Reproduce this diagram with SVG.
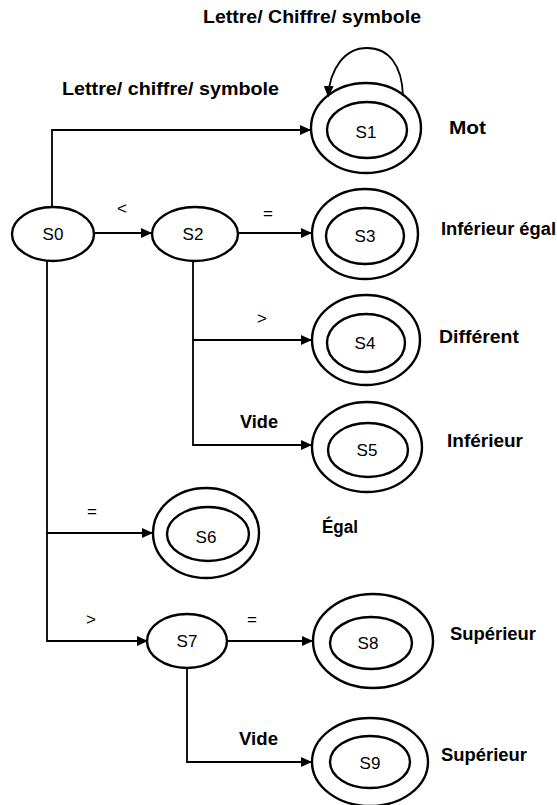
<svg xmlns="http://www.w3.org/2000/svg" width="557" height="805" viewBox="0 0 557 805">
<style>
.e{fill:none;stroke:#000;stroke-width:2.4}
.c{fill:none;stroke:#000;stroke-width:1.8}
.n{font-family:"Liberation Sans",Arial,sans-serif;font-size:17px;text-anchor:middle}
.l{font-family:"Liberation Sans",Arial,sans-serif;font-size:18px;font-weight:bold}
.s{font-family:"Liberation Sans",Arial,sans-serif;font-size:17px;text-anchor:middle}
</style>
<defs>
<marker id="a" viewBox="0 0 11 10" refX="11" refY="5" markerWidth="11" markerHeight="10" markerUnits="userSpaceOnUse" orient="auto">
<path d="M0,0 L11,5 L0,10 z" fill="#000"/>
</marker>
</defs>
<rect width="557" height="805" fill="#fff"/>
<g id="connectors">
<path class="c" d="M52,207 V130 H311" marker-end="url(#a)"/>
<path class="c" d="M403,96 C402,64 388,48 367,48 C345,48 330,68 328,97" marker-end="url(#a)"/>
<path class="c" d="M95,233 H152" marker-end="url(#a)"/>
<path class="c" d="M238,233 H312" marker-end="url(#a)"/>
<path class="c" d="M193,261 V445 H312" marker-end="url(#a)"/>
<path class="c" d="M193,340 H312" marker-end="url(#a)"/>
<path class="c" d="M47,261 V641 H148" marker-end="url(#a)"/>
<path class="c" d="M47,533 H153" marker-end="url(#a)"/>
<path class="c" d="M227,641 H313" marker-end="url(#a)"/>
<path class="c" d="M187,668 V762 H312" marker-end="url(#a)"/>
</g>
<g id="labels">
<text class="l" x="203" y="23" textLength="218" lengthAdjust="spacingAndGlyphs">Lettre/ Chiffre/ symbole</text>
<text class="l" x="62" y="95" textLength="217" lengthAdjust="spacingAndGlyphs">Lettre/ chiffre/ symbole</text>
<text class="l" x="449" y="134" textLength="37" lengthAdjust="spacingAndGlyphs">Mot</text>
<text class="s" x="122" y="214">&lt;</text>
<text class="s" x="268" y="219">=</text>
<text class="l" x="441" y="235" textLength="115" lengthAdjust="spacingAndGlyphs">Inférieur égal</text>
<text class="s" x="262" y="324">&gt;</text>
<text class="l" x="439" y="343" textLength="80" lengthAdjust="spacingAndGlyphs">Différent</text>
<text class="l" x="240" y="428" textLength="38" lengthAdjust="spacingAndGlyphs">Vide</text>
<text class="l" x="447" y="447" textLength="76" lengthAdjust="spacingAndGlyphs">Inférieur</text>
<text class="s" x="92" y="517">=</text>
<text class="l" x="322" y="533" textLength="36" lengthAdjust="spacingAndGlyphs">Égal</text>
<text class="s" x="91" y="625">&gt;</text>
<text class="s" x="252" y="625">=</text>
<text class="l" x="450" y="640" textLength="86" lengthAdjust="spacingAndGlyphs">Supérieur</text>
<text class="l" x="239" y="745" textLength="39" lengthAdjust="spacingAndGlyphs">Vide</text>
<text class="l" x="441" y="761" textLength="86" lengthAdjust="spacingAndGlyphs">Supérieur</text>
</g>
<g id="S0"><ellipse class="e" cx="53" cy="234" rx="41" ry="27"/><text class="n" x="53" y="240">S0</text></g>
<g id="S1"><ellipse class="e" cx="366" cy="128" rx="55" ry="45"/><ellipse class="e" cx="367" cy="130" rx="40" ry="28"/><text class="n" x="366" y="138">S1</text></g>
<g id="S2"><ellipse class="e" cx="195" cy="234" rx="43" ry="27"/><text class="n" x="193" y="240">S2</text></g>
<g id="S3"><ellipse class="e" cx="365" cy="234" rx="53" ry="45"/><ellipse class="e" cx="365" cy="236" rx="39" ry="28"/><text class="n" x="365" y="242">S3</text></g>
<g id="S4"><ellipse class="e" cx="366" cy="340" rx="54" ry="45"/><ellipse class="e" cx="366" cy="343" rx="39" ry="29"/><text class="n" x="365" y="349">S4</text></g>
<g id="S5"><ellipse class="e" cx="367" cy="447" rx="55" ry="45"/><ellipse class="e" cx="368" cy="450" rx="40" ry="27"/><text class="n" x="367" y="456">S5</text></g>
<g id="S6"><ellipse class="e" cx="206" cy="533" rx="53" ry="45"/><ellipse class="e" cx="208" cy="534" rx="41" ry="27"/><text class="n" x="206" y="543">S6</text></g>
<g id="S7"><ellipse class="e" cx="187" cy="641" rx="40" ry="27"/><text class="n" x="187" y="647">S7</text></g>
<g id="S8"><ellipse class="e" cx="373" cy="641" rx="60" ry="47"/><ellipse class="e" cx="371" cy="643" rx="41" ry="26"/><text class="n" x="368" y="649">S8</text></g>
<g id="S9"><ellipse class="e" cx="370" cy="762" rx="58" ry="44"/><ellipse class="e" cx="370" cy="762" rx="40" ry="26"/><text class="n" x="370" y="769">S9</text></g>
</svg>
